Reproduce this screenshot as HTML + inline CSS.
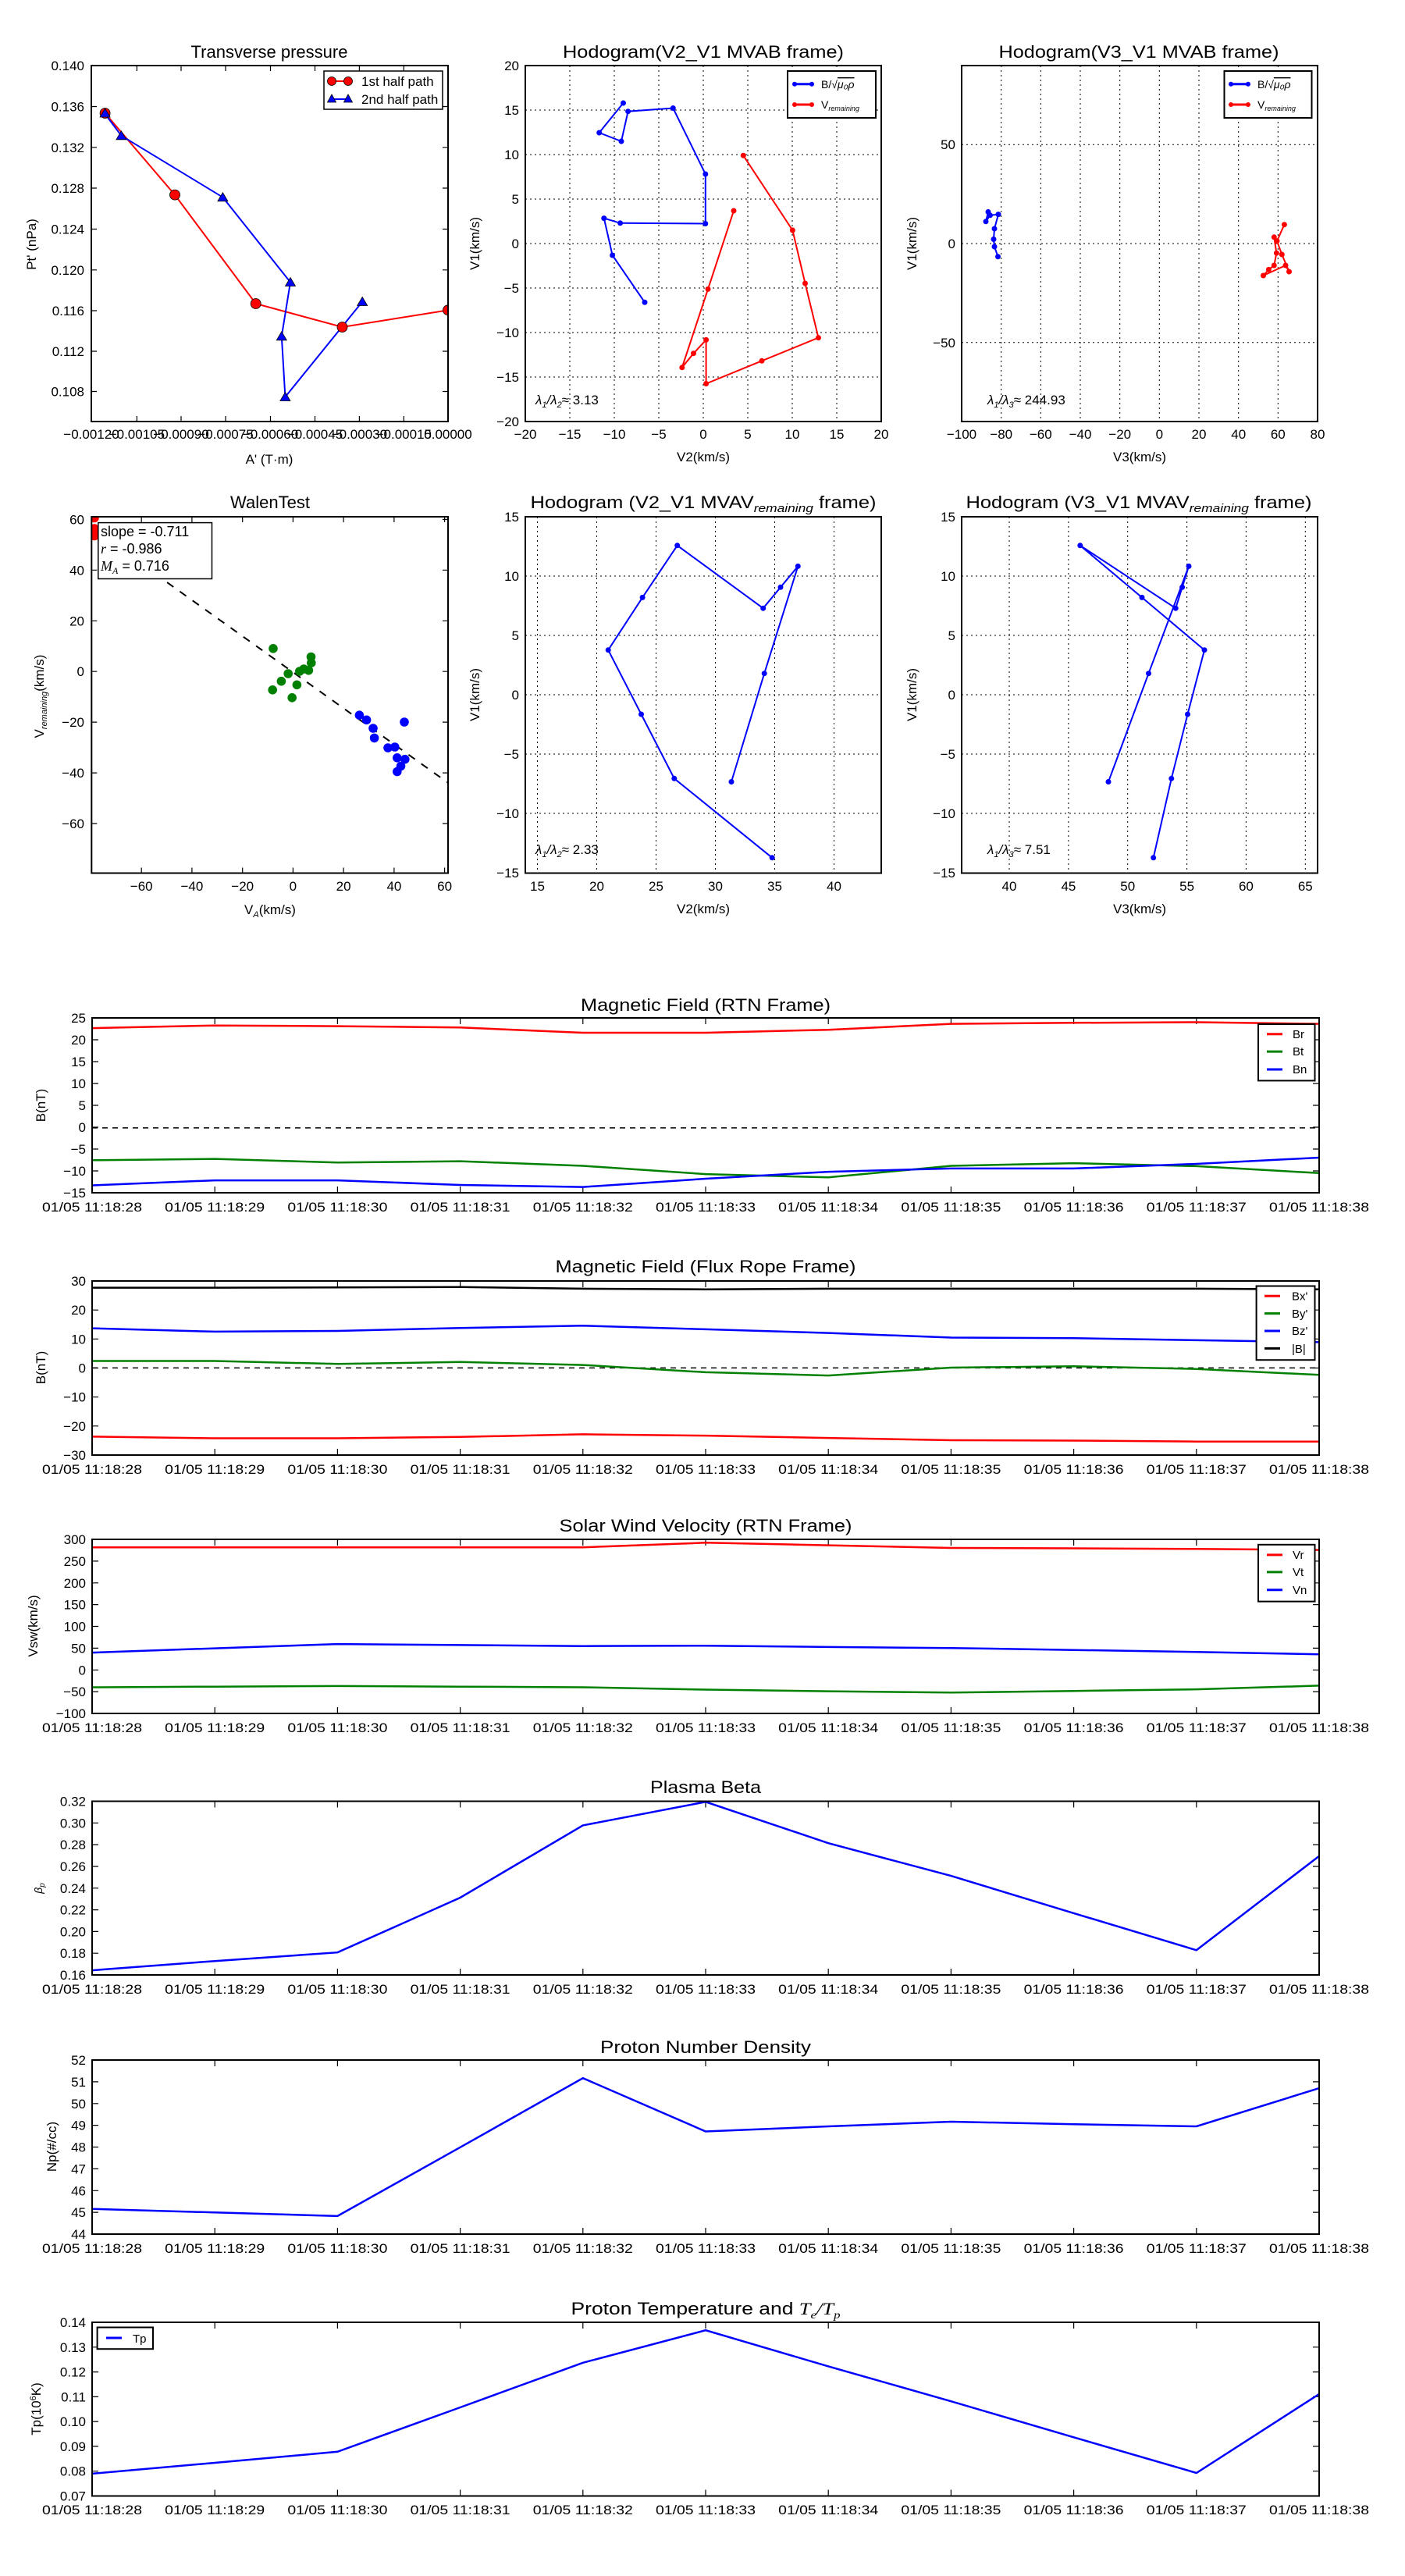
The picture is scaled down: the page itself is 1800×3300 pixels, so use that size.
<!DOCTYPE html>
<html><head><meta charset="utf-8"><style>
html,body{margin:0;padding:0;background:#fff}
svg{display:block}
text{font-family:"Liberation Sans",sans-serif;fill:#000}
.t{font-size:17px}
.n{font-size:17px}
.ti{font-size:22px}
.lb{font-size:17px}
.ax{fill:none;stroke:#000;stroke-width:2}
.tk{fill:none;stroke:#000;stroke-width:1.2}
.gr{fill:none;stroke:#000;stroke-width:1;stroke-dasharray:2,4}
</style></head><body>
<svg width="1800" height="3300" viewBox="0 0 1800 3300" xmlns="http://www.w3.org/2000/svg">
<rect width="1800" height="3300" fill="#fff"/>

<!-- ===== Panel 1: Transverse pressure ===== -->
<text class="ti" x="345" y="74" text-anchor="middle">Transverse pressure</text>
<path class="tk" d="M175.4,540v-7M232,540v-7M289,540v-7M346.5,540v-7M403.5,540v-7M460.4,540v-7M517.3,540v-7M175.4,84v7M232,84v7M289,84v7M346.5,84v7M403.5,84v7M460.4,84v7M517.3,84v7
M117,136.5h7M117,188.8h7M117,241h7M117,293.5h7M117,345.8h7M117,398h7M117,450h7M117,501.5h7M574,136.5h-7M574,188.8h-7M574,241h-7M574,293.5h-7M574,345.8h-7M574,398h-7M574,450h-7M574,501.5h-7"/>
<g class="t" text-anchor="end">
<text x="108" y="90">0.140</text><text x="108" y="142.5">0.136</text><text x="108" y="194.8">0.132</text><text x="108" y="247">0.128</text><text x="108" y="299.5">0.124</text><text x="108" y="351.8">0.120</text><text x="108" y="404">0.116</text><text x="108" y="456">0.112</text><text x="108" y="507.5">0.108</text>
</g>
<g class="t" text-anchor="middle">
<text x="117" y="562">−0.00120</text><text x="175.4" y="562">−0.00105</text><text x="232" y="562">−0.00090</text><text x="289" y="562">−0.00075</text><text x="346.5" y="562">−0.00060</text><text x="403.5" y="562">−0.00045</text><text x="460.4" y="562">−0.00030</text><text x="517.3" y="562">−0.00015</text><text x="574" y="562">0.00000</text>
</g>
<text class="lb" x="345" y="594" text-anchor="middle">A' (T·m)</text>
<text class="lb" transform="translate(46,313) rotate(-90)" text-anchor="middle">Pt' (nPa)</text>
<defs><clipPath id="c1"><rect x="117" y="84" width="457" height="456"/></clipPath></defs>
<g clip-path="url(#c1)">
<polyline fill="none" stroke="#f00" stroke-width="2" points="134.6,145 224,249.6 327.7,389 438.5,419 574,397.3"/>
<polyline fill="none" stroke="#00f" stroke-width="2" points="134.6,146 155.4,173.8 285.4,252.7 372,361.5 360.8,430.8 365.4,508.5 464.2,386.5"/>
<g fill="#f00" stroke="#000" stroke-width="0.8"><circle cx="134.6" cy="145" r="6.5"/><circle cx="224" cy="249.6" r="6.5"/><circle cx="327.7" cy="389" r="6.5"/><circle cx="438.5" cy="419" r="6.5"/><circle cx="574" cy="397.3" r="6.5"/></g>
<g fill="#00f" stroke="#000" stroke-width="0.8">
<path d="M134.6,139l6.5,11h-13z"/><path d="M155.4,167.8l6.5,11h-13z"/><path d="M285.4,246.7l6.5,11h-13z"/><path d="M372,355.5l6.5,11h-13z"/><path d="M360.8,424.8l6.5,11h-13z"/><path d="M365.4,502.5l6.5,11h-13z"/><path d="M464.2,380.5l6.5,11h-13z"/></g>
</g>
<rect class="ax" x="117" y="84" width="457" height="456"/>
<rect x="415" y="91" width="152" height="49" fill="#fff" stroke="#000" stroke-width="1.5"/>
<line x1="425" y1="104" x2="446" y2="104" stroke="#f00" stroke-width="2"/>
<circle cx="425" cy="104" r="5.5" fill="#f00" stroke="#000" stroke-width="0.8"/><circle cx="446" cy="104" r="5.5" fill="#f00" stroke="#000" stroke-width="0.8"/>
<text class="n" x="463" y="110">1st half path</text>
<line x1="425" y1="127" x2="446" y2="127" stroke="#00f" stroke-width="2"/>
<path d="M425,121l5.5,10h-11zM446,121l5.5,10h-11z" fill="#00f" stroke="#000" stroke-width="0.8"/>
<text class="n" x="463" y="133">2nd half path</text>

<!-- ===== Panel 2: Hodogram V2_V1 MVAB ===== -->
<text class="ti" x="901" y="74" text-anchor="middle" textLength="360" lengthAdjust="spacingAndGlyphs">Hodogram(V2_V1 MVAB frame)</text>
<path class="gr" d="M730,84V540M787,84V540M844,84V540M901,84V540M958,84V540M1015,84V540M1072,84V540M673,141H1129M673,198H1129M673,255H1129M673,312H1129M673,369H1129M673,426H1129M673,483H1129"/>
<g class="t" text-anchor="end">
<text x="665" y="90">20</text><text x="665" y="147">15</text><text x="665" y="204">10</text><text x="665" y="261">5</text><text x="665" y="318">0</text><text x="665" y="375">−5</text><text x="665" y="432">−10</text><text x="665" y="489">−15</text><text x="665" y="546">−20</text></g>
<g class="t" text-anchor="middle">
<text x="673" y="562">−20</text><text x="730" y="562">−15</text><text x="787" y="562">−10</text><text x="844" y="562">−5</text><text x="901" y="562">0</text><text x="958" y="562">5</text><text x="1015" y="562">10</text><text x="1072" y="562">15</text><text x="1129" y="562">20</text></g>
<text class="lb" x="901" y="591" text-anchor="middle">V2(km/s)</text>
<text class="lb" transform="translate(614,312) rotate(-90)" text-anchor="middle">V1(km/s)</text>
<polyline fill="none" stroke="#00f" stroke-width="2" points="798.5,132 767.7,170 796,181 804.6,142.7 862.3,138.5 903.8,223 903.8,286.5 794.6,285.8 773.8,279.6 784.6,327 826,387.3"/>
<g fill="#00f"><circle cx="798.5" cy="132" r="3.5"/><circle cx="767.7" cy="170" r="3.5"/><circle cx="796" cy="181" r="3.5"/><circle cx="804.6" cy="142.7" r="3.5"/><circle cx="862.3" cy="138.5" r="3.5"/><circle cx="903.8" cy="223" r="3.5"/><circle cx="903.8" cy="286.5" r="3.5"/><circle cx="794.6" cy="285.8" r="3.5"/><circle cx="773.8" cy="279.6" r="3.5"/><circle cx="784.6" cy="327" r="3.5"/><circle cx="826" cy="387.3" r="3.5"/></g>
<polyline fill="none" stroke="#f00" stroke-width="2" points="952.3,199.2 1015.4,295 1031.5,363 1048.5,432.7 976,462.3 904.6,491.5 904.6,435.4 888.5,452.7 873.8,470.8 907,370.4 940,270"/>
<g fill="#f00"><circle cx="952.3" cy="199.2" r="3.5"/><circle cx="1015.4" cy="295" r="3.5"/><circle cx="1031.5" cy="363" r="3.5"/><circle cx="1048.5" cy="432.7" r="3.5"/><circle cx="976" cy="462.3" r="3.5"/><circle cx="904.6" cy="491.5" r="3.5"/><circle cx="904.6" cy="435.4" r="3.5"/><circle cx="888.5" cy="452.7" r="3.5"/><circle cx="873.8" cy="470.8" r="3.5"/><circle cx="907" cy="370.4" r="3.5"/><circle cx="940" cy="270" r="3.5"/></g>
<text x="686" y="518" font-size="17" font-style="italic">λ<tspan font-size="11" dy="4">1</tspan><tspan dy="-4">/λ</tspan><tspan font-size="11" dy="4">2</tspan><tspan dy="-4" font-style="normal">≈ 3.13</tspan></text>
<rect class="ax" x="673" y="84" width="456" height="456"/>
<rect x="1009" y="91" width="113" height="60" fill="#fff" stroke="#000" stroke-width="2"/>
<line x1="1016" y1="107.7" x2="1042" y2="107.7" stroke="#00f" stroke-width="3"/><circle cx="1018" cy="107.7" r="3" fill="#00f"/><circle cx="1040" cy="107.7" r="3" fill="#00f"/>
<text x="1052" y="113" font-size="14">B/√<tspan font-style="italic" text-decoration="overline">μ₀ρ</tspan></text>
<line x1="1016" y1="134" x2="1042" y2="134" stroke="#f00" stroke-width="3"/><circle cx="1018" cy="134" r="3" fill="#f00"/><circle cx="1040" cy="134" r="3" fill="#f00"/>
<text x="1052" y="139" font-size="14">V<tspan font-size="9" font-style="italic" dy="3">remaining</tspan></text>

<!-- ===== Panel 3: Hodogram V3_V1 MVAB ===== -->
<text class="ti" x="1459" y="74" text-anchor="middle" textLength="359" lengthAdjust="spacingAndGlyphs">Hodogram(V3_V1 MVAB frame)</text>
<path class="gr" d="M1282.7,84V540M1333.3,84V540M1384,84V540M1434.7,84V540M1485.3,84V540M1536,84V540M1586.7,84V540M1637.3,84V540M1232,185.3H1688M1232,312H1688M1232,438.7H1688"/>
<g class="t" text-anchor="end"><text x="1224" y="191">50</text><text x="1224" y="318">0</text><text x="1224" y="445">−50</text></g>
<g class="t" text-anchor="middle">
<text x="1232" y="562">−100</text><text x="1282.7" y="562">−80</text><text x="1333.3" y="562">−60</text><text x="1384" y="562">−40</text><text x="1434.7" y="562">−20</text><text x="1485.3" y="562">0</text><text x="1536" y="562">20</text><text x="1586.7" y="562">40</text><text x="1637.3" y="562">60</text><text x="1688" y="562">80</text></g>
<text class="lb" x="1460" y="591" text-anchor="middle">V3(km/s)</text>
<text class="lb" transform="translate(1174,312) rotate(-90)" text-anchor="middle">V1(km/s)</text>
<polyline fill="none" stroke="#00f" stroke-width="2" points="1266,271.5 1263,283.8 1268.5,275.8 1279,274.6 1274,293 1273,306.5 1274,316 1278.5,328.8"/>
<g fill="#00f"><circle cx="1266" cy="271.5" r="3.5"/><circle cx="1263" cy="283.8" r="3.5"/><circle cx="1268.5" cy="275.8" r="3.5"/><circle cx="1279" cy="274.6" r="3.5"/><circle cx="1274" cy="293" r="3.5"/><circle cx="1273" cy="306.5" r="3.5"/><circle cx="1274" cy="316" r="3.5"/><circle cx="1278.5" cy="328.8" r="3.5"/></g>
<polyline fill="none" stroke="#f00" stroke-width="2" points="1645.4,287.7 1636,308.8 1632.3,303.8 1635.4,324.2 1632.3,340 1625.4,345.4 1618.5,353 1647,340 1651.5,348 1642.3,326 1636,308.8"/>
<g fill="#f00"><circle cx="1645.4" cy="287.7" r="3.5"/><circle cx="1632.3" cy="303.8" r="3.5"/><circle cx="1636" cy="308.8" r="3.5"/><circle cx="1635.4" cy="324.2" r="3.5"/><circle cx="1642.3" cy="326" r="3.5"/><circle cx="1632.3" cy="340" r="3.5"/><circle cx="1647" cy="340" r="3.5"/><circle cx="1651.5" cy="348" r="3.5"/><circle cx="1625.4" cy="345.4" r="3.5"/><circle cx="1618.5" cy="353" r="3.5"/></g>
<text x="1265" y="518" font-size="17" font-style="italic">λ<tspan font-size="11" dy="4">1</tspan><tspan dy="-4">/λ</tspan><tspan font-size="11" dy="4">3</tspan><tspan dy="-4" font-style="normal">≈ 244.93</tspan></text>
<rect class="ax" x="1232" y="84" width="456" height="456"/>
<rect x="1568.5" y="91" width="112" height="60" fill="#fff" stroke="#000" stroke-width="2"/>
<line x1="1575" y1="107.7" x2="1601" y2="107.7" stroke="#00f" stroke-width="3"/><circle cx="1577" cy="107.7" r="3" fill="#00f"/><circle cx="1599" cy="107.7" r="3" fill="#00f"/>
<text x="1611" y="113" font-size="14">B/√<tspan font-style="italic" text-decoration="overline">μ₀ρ</tspan></text>
<line x1="1575" y1="134" x2="1601" y2="134" stroke="#f00" stroke-width="3"/><circle cx="1577" cy="134" r="3" fill="#f00"/><circle cx="1599" cy="134" r="3" fill="#f00"/>
<text x="1611" y="139" font-size="14">V<tspan font-size="9" font-style="italic" dy="3">remaining</tspan></text>

<!-- ===== Panel 4: WalenTest ===== -->
<text class="ti" x="346" y="651" text-anchor="middle">WalenTest</text>
<path class="tk" d="M181.2,1118.5v-7M245.9,1118.5v-7M310.7,1118.5v-7M375.4,1118.5v-7M440.1,1118.5v-7M504.9,1118.5v-7M569.6,1118.5v-7M181.2,662v7M245.9,662v7M310.7,662v7M375.4,662v7M440.1,662v7M504.9,662v7M569.6,662v7
M117.3,665.4h7M117.3,730.3h7M117.3,795.3h7M117.3,860.2h7M117.3,925.1h7M117.3,990.1h7M117.3,1055h7M574,665.4h-7M574,730.3h-7M574,795.3h-7M574,860.2h-7M574,925.1h-7M574,990.1h-7M574,1055h-7"/>
<g class="t" text-anchor="end">
<text x="108" y="671.4">60</text><text x="108" y="736.3">40</text><text x="108" y="801.3">20</text><text x="108" y="866.2">0</text><text x="108" y="931.1">−20</text><text x="108" y="996.1">−40</text><text x="108" y="1061">−60</text></g>
<g class="t" text-anchor="middle">
<text x="181.2" y="1141">−60</text><text x="245.9" y="1141">−40</text><text x="310.7" y="1141">−20</text><text x="375.4" y="1141">0</text><text x="440.1" y="1141">20</text><text x="504.9" y="1141">40</text><text x="569.6" y="1141">60</text></g>
<text class="lb" x="346" y="1171" text-anchor="middle">V<tspan font-size="11" font-style="italic" dy="4">A</tspan><tspan dy="-4">(km/s)</tspan></text>
<text class="lb" transform="translate(56,892) rotate(-90)" text-anchor="middle">V<tspan font-size="11" font-style="italic" dy="4">remaining</tspan><tspan dy="-4">(km/s)</tspan></text>
<defs><clipPath id="c4"><rect x="117.3" y="662" width="456.7" height="456.5"/></clipPath></defs>
<g clip-path="url(#c4)">
<line x1="116.4" y1="676.4" x2="573.8" y2="1002.7" stroke="#000" stroke-width="2" stroke-dasharray="10,10"/>
<g fill="#f00"><circle cx="121" cy="663.5" r="5.8"/><circle cx="121" cy="677" r="5.8"/><circle cx="121" cy="686.5" r="5.8"/></g>
<g fill="#008000"><circle cx="350" cy="830.8" r="5.8"/><circle cx="349.2" cy="883.8" r="5.8"/><circle cx="360.4" cy="872.7" r="5.8"/><circle cx="369.2" cy="863" r="5.8"/><circle cx="374.2" cy="893.8" r="5.8"/><circle cx="380.4" cy="877.3" r="5.8"/><circle cx="383.8" cy="860" r="5.8"/><circle cx="389.2" cy="857" r="5.8"/><circle cx="395.4" cy="858.8" r="5.8"/><circle cx="398.5" cy="841.5" r="5.8"/><circle cx="398.8" cy="849.2" r="5.8"/></g>
<g fill="#00f"><circle cx="460.4" cy="916.2" r="5.8"/><circle cx="469.6" cy="922.3" r="5.8"/><circle cx="478" cy="933" r="5.8"/><circle cx="479.6" cy="945.4" r="5.8"/><circle cx="497" cy="958" r="5.8"/><circle cx="505.8" cy="957" r="5.8"/><circle cx="508.8" cy="970.8" r="5.8"/><circle cx="508.8" cy="988.5" r="5.8"/><circle cx="513.5" cy="981.5" r="5.8"/><circle cx="518.8" cy="972.7" r="5.8"/><circle cx="518" cy="925" r="5.8"/></g>
</g>
<rect class="ax" x="117.3" y="662" width="456.7" height="456.5"/>
<rect x="125.8" y="669.6" width="145.7" height="71.9" fill="#fff" stroke="#000" stroke-width="1.5"/>
<text x="129" y="687" font-size="18">slope = -0.711</text>
<text x="129" y="709" font-size="18"><tspan font-style="italic" font-family="Liberation Serif">r</tspan> = -0.986</text>
<text x="129" y="731" font-size="18"><tspan font-style="italic" font-family="Liberation Serif">M<tspan font-size="12" dy="4">A</tspan></tspan><tspan dy="-4"> = 0.716</tspan></text>

<!-- ===== Panel 5: Hodogram V2_V1 MVAV ===== -->
<text class="ti" x="901" y="651" text-anchor="middle" textLength="443" lengthAdjust="spacingAndGlyphs">Hodogram (V2_V1 MVAV<tspan font-size="15" font-style="italic" dy="5">remaining</tspan><tspan dy="-5"> frame)</tspan></text>
<path class="gr" d="M688.5,662V1118.5M764.5,662V1118.5M840.5,662V1118.5M916.5,662V1118.5M992.5,662V1118.5M1068.5,662V1118.5M673,738H1129M673,814H1129M673,890H1129M673,966H1129M673,1042H1129"/>
<g class="t" text-anchor="end">
<text x="665" y="668">15</text><text x="665" y="744">10</text><text x="665" y="820">5</text><text x="665" y="896">0</text><text x="665" y="972">−5</text><text x="665" y="1048">−10</text><text x="665" y="1124">−15</text></g>
<g class="t" text-anchor="middle">
<text x="688.5" y="1141">15</text><text x="764.5" y="1141">20</text><text x="840.5" y="1141">25</text><text x="916.5" y="1141">30</text><text x="992.5" y="1141">35</text><text x="1068.5" y="1141">40</text></g>
<text class="lb" x="901" y="1170" text-anchor="middle">V2(km/s)</text>
<text class="lb" transform="translate(614,890) rotate(-90)" text-anchor="middle">V1(km/s)</text>
<polyline fill="none" stroke="#00f" stroke-width="2" points="989.2,1098.8 863.8,997.3 821.5,915 779.2,832.7 823.1,765.4 867.7,698.8 977.7,779.2 1000,752.3 1022.3,725.4 979.2,862.7 937,1001.5"/>
<g fill="#00f"><circle cx="989.2" cy="1098.8" r="3.5"/><circle cx="863.8" cy="997.3" r="3.5"/><circle cx="821.5" cy="915" r="3.5"/><circle cx="779.2" cy="832.7" r="3.5"/><circle cx="823.1" cy="765.4" r="3.5"/><circle cx="867.7" cy="698.8" r="3.5"/><circle cx="977.7" cy="779.2" r="3.5"/><circle cx="1000" cy="752.3" r="3.5"/><circle cx="1022.3" cy="725.4" r="3.5"/><circle cx="979.2" cy="862.7" r="3.5"/><circle cx="937" cy="1001.5" r="3.5"/></g>
<text x="686" y="1094" font-size="17" font-style="italic">λ<tspan font-size="11" dy="4">1</tspan><tspan dy="-4">/λ</tspan><tspan font-size="11" dy="4">2</tspan><tspan dy="-4" font-style="normal">≈ 2.33</tspan></text>
<rect class="ax" x="673" y="662" width="456" height="456.5"/>

<!-- ===== Panel 6: Hodogram V3_V1 MVAV ===== -->
<text class="ti" x="1459" y="651" text-anchor="middle" textLength="443" lengthAdjust="spacingAndGlyphs">Hodogram (V3_V1 MVAV<tspan font-size="15" font-style="italic" dy="5">remaining</tspan><tspan dy="-5"> frame)</tspan></text>
<path class="gr" d="M1293,662V1118.5M1368.9,662V1118.5M1444.7,662V1118.5M1520.6,662V1118.5M1596.4,662V1118.5M1672.3,662V1118.5M1232,738H1688M1232,814H1688M1232,890H1688M1232,966H1688M1232,1042H1688"/>
<g class="t" text-anchor="end">
<text x="1224" y="668">15</text><text x="1224" y="744">10</text><text x="1224" y="820">5</text><text x="1224" y="896">0</text><text x="1224" y="972">−5</text><text x="1224" y="1048">−10</text><text x="1224" y="1124">−15</text></g>
<g class="t" text-anchor="middle">
<text x="1293" y="1141">40</text><text x="1368.9" y="1141">45</text><text x="1444.7" y="1141">50</text><text x="1520.6" y="1141">55</text><text x="1596.4" y="1141">60</text><text x="1672.3" y="1141">65</text></g>
<text class="lb" x="1460" y="1170" text-anchor="middle">V3(km/s)</text>
<text class="lb" transform="translate(1174,890) rotate(-90)" text-anchor="middle">V1(km/s)</text>
<polyline fill="none" stroke="#00f" stroke-width="2" points="1477.7,1098.8 1500.8,997.3 1521.5,915 1543,832.7 1463,765.4 1383.8,698.8 1506.2,779.2 1514.6,752.3 1523,725.4 1471.5,862.7 1420,1001.5"/>
<g fill="#00f"><circle cx="1477.7" cy="1098.8" r="3.5"/><circle cx="1500.8" cy="997.3" r="3.5"/><circle cx="1521.5" cy="915" r="3.5"/><circle cx="1543" cy="832.7" r="3.5"/><circle cx="1463" cy="765.4" r="3.5"/><circle cx="1383.8" cy="698.8" r="3.5"/><circle cx="1506.2" cy="779.2" r="3.5"/><circle cx="1514.6" cy="752.3" r="3.5"/><circle cx="1523" cy="725.4" r="3.5"/><circle cx="1471.5" cy="862.7" r="3.5"/><circle cx="1420" cy="1001.5" r="3.5"/></g>
<text x="1265" y="1094" font-size="17" font-style="italic">λ<tspan font-size="11" dy="4">1</tspan><tspan dy="-4">/λ</tspan><tspan font-size="11" dy="4">3</tspan><tspan dy="-4" font-style="normal">≈ 7.51</tspan></text>
<rect class="ax" x="1232" y="662" width="456" height="456.5"/>

<!-- ===== Time series shared tick-label template (repeated) ===== -->
<!-- Mag RTN: top 1304 bottom 1528 -->
<text class="ti" x="904" y="1295" text-anchor="middle" textLength="320" lengthAdjust="spacingAndGlyphs">Magnetic Field (RTN Frame)</text>
<path class="tk" d="M275.2,1528v-8M432.4,1528v-8M589.6,1528v-8M746.8,1528v-8M904,1528v-8M1061.2,1528v-8M1218.4,1528v-8M1375.6,1528v-8M1532.8,1528v-8M275.2,1304v8M432.4,1304v8M589.6,1304v8M746.8,1304v8M904,1304v8M1061.2,1304v8M1218.4,1304v8M1375.6,1304v8M1532.8,1304v8
M118,1332h8M118,1360h8M118,1388h8M118,1416h8M118,1444h8M118,1472h8M118,1500h8M1690,1332h-8M1690,1360h-8M1690,1388h-8M1690,1416h-8M1690,1444h-8M1690,1472h-8M1690,1500h-8"/>
<g class="t" text-anchor="end">
<text x="110" y="1310">25</text><text x="110" y="1338">20</text><text x="110" y="1366">15</text><text x="110" y="1394">10</text><text x="110" y="1422">5</text><text x="110" y="1450">0</text><text x="110" y="1478">−5</text><text x="110" y="1506">−10</text><text x="110" y="1534">−15</text></g>
<g class="t" text-anchor="middle">
<text x="118" y="1552" textLength="128" lengthAdjust="spacingAndGlyphs">01/05 11:18:28</text><text x="275.2" y="1552" textLength="128" lengthAdjust="spacingAndGlyphs">01/05 11:18:29</text><text x="432.4" y="1552" textLength="128" lengthAdjust="spacingAndGlyphs">01/05 11:18:30</text><text x="589.6" y="1552" textLength="128" lengthAdjust="spacingAndGlyphs">01/05 11:18:31</text><text x="746.8" y="1552" textLength="128" lengthAdjust="spacingAndGlyphs">01/05 11:18:32</text><text x="904" y="1552" textLength="128" lengthAdjust="spacingAndGlyphs">01/05 11:18:33</text><text x="1061.2" y="1552" textLength="128" lengthAdjust="spacingAndGlyphs">01/05 11:18:34</text><text x="1218.4" y="1552" textLength="128" lengthAdjust="spacingAndGlyphs">01/05 11:18:35</text><text x="1375.6" y="1552" textLength="128" lengthAdjust="spacingAndGlyphs">01/05 11:18:36</text><text x="1532.8" y="1552" textLength="128" lengthAdjust="spacingAndGlyphs">01/05 11:18:37</text><text x="1690" y="1552" textLength="128" lengthAdjust="spacingAndGlyphs">01/05 11:18:38</text></g>
<text class="lb" transform="translate(58,1416) rotate(-90)" text-anchor="middle">B(nT)</text>
<line x1="118" y1="1444.9" x2="1690" y2="1444.9" stroke="#000" stroke-width="1.5" stroke-dasharray="7,6"/>
<polyline fill="none" stroke="#f00" stroke-width="2.5" points="118,1317.1 275.2,1313.7 432.4,1314.6 589.6,1316.3 746.8,1323 904,1323 1061.2,1319.2 1218.4,1311.6 1375.6,1310.3 1532.8,1309.5 1690,1311.6"/>
<polyline fill="none" stroke="#008000" stroke-width="2.5" points="118,1486.3 275.2,1484.6 432.4,1489.3 589.6,1487.6 746.8,1493.5 904,1504.1 1061.2,1508.3 1218.4,1493.5 1375.6,1490.1 1532.8,1493.9 1690,1502.8"/>
<polyline fill="none" stroke="#00f" stroke-width="2.5" points="118,1518.5 275.2,1512.1 432.4,1512.1 589.6,1518 746.8,1520.6 904,1510 1061.2,1501.1 1218.4,1496.9 1375.6,1496.9 1532.8,1491 1690,1483"/>
<rect class="ax" x="118" y="1304" width="1572" height="224"/>
<rect x="1612" y="1312" width="72.5" height="72.4" fill="#fff" stroke="#000" stroke-width="2"/>
<line x1="1623" y1="1324.7" x2="1643" y2="1324.7" stroke="#f00" stroke-width="3"/><text x="1656" y="1330" font-size="15">Br</text>
<line x1="1623" y1="1347.1" x2="1643" y2="1347.1" stroke="#008000" stroke-width="3"/><text x="1656" y="1352" font-size="15">Bt</text>
<line x1="1623" y1="1370" x2="1643" y2="1370" stroke="#00f" stroke-width="3"/><text x="1656" y="1375" font-size="15">Bn</text>

<!-- Flux rope: top 1641 bottom 1864 -->
<text class="ti" x="904" y="1630" text-anchor="middle" textLength="385" lengthAdjust="spacingAndGlyphs">Magnetic Field (Flux Rope Frame)</text>
<path class="tk" d="M275.2,1864v-8M432.4,1864v-8M589.6,1864v-8M746.8,1864v-8M904,1864v-8M1061.2,1864v-8M1218.4,1864v-8M1375.6,1864v-8M1532.8,1864v-8M275.2,1641v8M432.4,1641v8M589.6,1641v8M746.8,1641v8M904,1641v8M1061.2,1641v8M1218.4,1641v8M1375.6,1641v8M1532.8,1641v8
M118,1678.2h8M118,1715.3h8M118,1752.5h8M118,1789.7h8M118,1826.8h8M1690,1678.2h-8M1690,1715.3h-8M1690,1752.5h-8M1690,1789.7h-8M1690,1826.8h-8"/>
<g class="t" text-anchor="end">
<text x="110" y="1647">30</text><text x="110" y="1684.2">20</text><text x="110" y="1721.3">10</text><text x="110" y="1758.5">0</text><text x="110" y="1795.7">−10</text><text x="110" y="1832.8">−20</text><text x="110" y="1870">−30</text></g>
<g class="t" text-anchor="middle">
<text x="118" y="1888" textLength="128" lengthAdjust="spacingAndGlyphs">01/05 11:18:28</text><text x="275.2" y="1888" textLength="128" lengthAdjust="spacingAndGlyphs">01/05 11:18:29</text><text x="432.4" y="1888" textLength="128" lengthAdjust="spacingAndGlyphs">01/05 11:18:30</text><text x="589.6" y="1888" textLength="128" lengthAdjust="spacingAndGlyphs">01/05 11:18:31</text><text x="746.8" y="1888" textLength="128" lengthAdjust="spacingAndGlyphs">01/05 11:18:32</text><text x="904" y="1888" textLength="128" lengthAdjust="spacingAndGlyphs">01/05 11:18:33</text><text x="1061.2" y="1888" textLength="128" lengthAdjust="spacingAndGlyphs">01/05 11:18:34</text><text x="1218.4" y="1888" textLength="128" lengthAdjust="spacingAndGlyphs">01/05 11:18:35</text><text x="1375.6" y="1888" textLength="128" lengthAdjust="spacingAndGlyphs">01/05 11:18:36</text><text x="1532.8" y="1888" textLength="128" lengthAdjust="spacingAndGlyphs">01/05 11:18:37</text><text x="1690" y="1888" textLength="128" lengthAdjust="spacingAndGlyphs">01/05 11:18:38</text></g>
<text class="lb" transform="translate(58,1752) rotate(-90)" text-anchor="middle">B(nT)</text>
<line x1="118" y1="1752.4" x2="1690" y2="1752.4" stroke="#000" stroke-width="1.5" stroke-dasharray="7,6"/>
<polyline fill="none" stroke="#000" stroke-width="2.5" points="118,1649.6 275.2,1649.6 432.4,1649.2 589.6,1648.8 746.8,1650.9 904,1651.7 1061.2,1650.9 1218.4,1650.9 1375.6,1650.9 1532.8,1650.9 1690,1651.7"/>
<polyline fill="none" stroke="#00f" stroke-width="2.5" points="118,1701.6 275.2,1705.9 432.4,1705 589.6,1701.2 746.8,1698.3 904,1702.9 1061.2,1707.6 1218.4,1713.5 1375.6,1714.3 1532.8,1716.9 1690,1719.4"/>
<polyline fill="none" stroke="#008000" stroke-width="2.5" points="118,1743.5 275.2,1743.5 432.4,1747.3 589.6,1744.8 746.8,1748.6 904,1757.9 1061.2,1762.1 1218.4,1752 1375.6,1750.3 1532.8,1753.7 1690,1761.3"/>
<polyline fill="none" stroke="#f00" stroke-width="2.5" points="118,1840.4 275.2,1842.5 432.4,1842.5 589.6,1840.8 746.8,1837.4 904,1839.1 1061.2,1842.1 1218.4,1845 1375.6,1845.5 1532.8,1846.7 1690,1846.7"/>
<rect class="ax" x="118" y="1641" width="1572" height="223"/>
<rect x="1609.6" y="1647.5" width="74.9" height="94.7" fill="#fff" stroke="#000" stroke-width="2"/>
<line x1="1620" y1="1660.2" x2="1640" y2="1660.2" stroke="#f00" stroke-width="3"/><text x="1655" y="1665.5" font-size="15">Bx'</text>
<line x1="1620" y1="1682.6" x2="1640" y2="1682.6" stroke="#008000" stroke-width="3"/><text x="1655" y="1688" font-size="15">By'</text>
<line x1="1620" y1="1705" x2="1640" y2="1705" stroke="#00f" stroke-width="3"/><text x="1655" y="1710" font-size="15">Bz'</text>
<line x1="1620" y1="1727.4" x2="1640" y2="1727.4" stroke="#000" stroke-width="3"/><text x="1655" y="1733" font-size="15">|B|</text>

<!-- Velocity: top 1972 bottom 2195 -->
<text class="ti" x="904" y="1962" text-anchor="middle" textLength="375" lengthAdjust="spacingAndGlyphs">Solar Wind Velocity (RTN Frame)</text>
<path class="tk" d="M275.2,2195v-8M432.4,2195v-8M589.6,2195v-8M746.8,2195v-8M904,2195v-8M1061.2,2195v-8M1218.4,2195v-8M1375.6,2195v-8M1532.8,2195v-8M275.2,1972v8M432.4,1972v8M589.6,1972v8M746.8,1972v8M904,1972v8M1061.2,1972v8M1218.4,1972v8M1375.6,1972v8M1532.8,1972v8
M118,1999.9h8M118,2027.8h8M118,2055.6h8M118,2083.5h8M118,2111.4h8M118,2139.3h8M118,2167.1h8M1690,1999.9h-8M1690,2027.8h-8M1690,2055.6h-8M1690,2083.5h-8M1690,2111.4h-8M1690,2139.3h-8M1690,2167.1h-8"/>
<g class="t" text-anchor="end">
<text x="110" y="1978">300</text><text x="110" y="2005.9">250</text><text x="110" y="2033.8">200</text><text x="110" y="2061.6">150</text><text x="110" y="2089.5">100</text><text x="110" y="2117.4">50</text><text x="110" y="2145.3">0</text><text x="110" y="2173.1">−50</text><text x="110" y="2201">−100</text></g>
<g class="t" text-anchor="middle">
<text x="118" y="2219" textLength="128" lengthAdjust="spacingAndGlyphs">01/05 11:18:28</text><text x="275.2" y="2219" textLength="128" lengthAdjust="spacingAndGlyphs">01/05 11:18:29</text><text x="432.4" y="2219" textLength="128" lengthAdjust="spacingAndGlyphs">01/05 11:18:30</text><text x="589.6" y="2219" textLength="128" lengthAdjust="spacingAndGlyphs">01/05 11:18:31</text><text x="746.8" y="2219" textLength="128" lengthAdjust="spacingAndGlyphs">01/05 11:18:32</text><text x="904" y="2219" textLength="128" lengthAdjust="spacingAndGlyphs">01/05 11:18:33</text><text x="1061.2" y="2219" textLength="128" lengthAdjust="spacingAndGlyphs">01/05 11:18:34</text><text x="1218.4" y="2219" textLength="128" lengthAdjust="spacingAndGlyphs">01/05 11:18:35</text><text x="1375.6" y="2219" textLength="128" lengthAdjust="spacingAndGlyphs">01/05 11:18:36</text><text x="1532.8" y="2219" textLength="128" lengthAdjust="spacingAndGlyphs">01/05 11:18:37</text><text x="1690" y="2219" textLength="128" lengthAdjust="spacingAndGlyphs">01/05 11:18:38</text></g>
<text class="lb" transform="translate(48,2083) rotate(-90)" text-anchor="middle">Vsw(km/s)</text>
<polyline fill="none" stroke="#f00" stroke-width="2.5" points="118,1982.2 275.2,1982.2 432.4,1982.2 589.6,1982.2 746.8,1982.2 904,1976.3 1061.2,1979.6 1218.4,1983 1375.6,1983.5 1532.8,1984.3 1690,1985.6"/>
<polyline fill="none" stroke="#00f" stroke-width="2.5" points="118,2117.1 275.2,2111.6 432.4,2106.1 589.6,2107.4 746.8,2108.7 904,2108.2 1061.2,2109.9 1218.4,2111.2 1375.6,2113.7 1532.8,2116.3 1690,2119.2"/>
<polyline fill="none" stroke="#008000" stroke-width="2.5" points="118,2161.5 275.2,2160.7 432.4,2159.9 589.6,2160.7 746.8,2161.5 904,2164.5 1061.2,2166.6 1218.4,2168.3 1375.6,2166.2 1532.8,2164.1 1690,2159.4"/>
<rect class="ax" x="118" y="1972" width="1572" height="223"/>
<rect x="1612" y="1978.8" width="72.5" height="72.8" fill="#fff" stroke="#000" stroke-width="2"/>
<line x1="1623" y1="1991.9" x2="1643" y2="1991.9" stroke="#f00" stroke-width="3"/><text x="1656" y="1997" font-size="15">Vr</text>
<line x1="1623" y1="2013.9" x2="1643" y2="2013.9" stroke="#008000" stroke-width="3"/><text x="1656" y="2019" font-size="15">Vt</text>
<line x1="1623" y1="2036.8" x2="1643" y2="2036.8" stroke="#00f" stroke-width="3"/><text x="1656" y="2042" font-size="15">Vn</text>

<!-- Beta: top 2307.5 bottom 2530 -->
<text class="ti" x="904" y="2297" text-anchor="middle" textLength="142" lengthAdjust="spacingAndGlyphs">Plasma Beta</text>
<path class="tk" d="M275.2,2530v-8M432.4,2530v-8M589.6,2530v-8M746.8,2530v-8M904,2530v-8M1061.2,2530v-8M1218.4,2530v-8M1375.6,2530v-8M1532.8,2530v-8M275.2,2307.5v8M432.4,2307.5v8M589.6,2307.5v8M746.8,2307.5v8M904,2307.5v8M1061.2,2307.5v8M1218.4,2307.5v8M1375.6,2307.5v8M1532.8,2307.5v8
M118,2335.3h8M118,2363.1h8M118,2391h8M118,2418.8h8M118,2446.6h8M118,2474.4h8M118,2502.2h8M1690,2335.3h-8M1690,2363.1h-8M1690,2391h-8M1690,2418.8h-8M1690,2446.6h-8M1690,2474.4h-8M1690,2502.2h-8"/>
<g class="t" text-anchor="end">
<text x="110" y="2313.5">0.32</text><text x="110" y="2341.3">0.30</text><text x="110" y="2369.1">0.28</text><text x="110" y="2397">0.26</text><text x="110" y="2424.8">0.24</text><text x="110" y="2452.6">0.22</text><text x="110" y="2480.4">0.20</text><text x="110" y="2508.2">0.18</text><text x="110" y="2536">0.16</text></g>
<g class="t" text-anchor="middle">
<text x="118" y="2554" textLength="128" lengthAdjust="spacingAndGlyphs">01/05 11:18:28</text><text x="275.2" y="2554" textLength="128" lengthAdjust="spacingAndGlyphs">01/05 11:18:29</text><text x="432.4" y="2554" textLength="128" lengthAdjust="spacingAndGlyphs">01/05 11:18:30</text><text x="589.6" y="2554" textLength="128" lengthAdjust="spacingAndGlyphs">01/05 11:18:31</text><text x="746.8" y="2554" textLength="128" lengthAdjust="spacingAndGlyphs">01/05 11:18:32</text><text x="904" y="2554" textLength="128" lengthAdjust="spacingAndGlyphs">01/05 11:18:33</text><text x="1061.2" y="2554" textLength="128" lengthAdjust="spacingAndGlyphs">01/05 11:18:34</text><text x="1218.4" y="2554" textLength="128" lengthAdjust="spacingAndGlyphs">01/05 11:18:35</text><text x="1375.6" y="2554" textLength="128" lengthAdjust="spacingAndGlyphs">01/05 11:18:36</text><text x="1532.8" y="2554" textLength="128" lengthAdjust="spacingAndGlyphs">01/05 11:18:37</text><text x="1690" y="2554" textLength="128" lengthAdjust="spacingAndGlyphs">01/05 11:18:38</text></g>
<text transform="translate(54,2419) rotate(-90)" text-anchor="middle" font-size="14" font-style="italic" font-family="Liberation Serif">β<tspan font-size="10" dy="3">p</tspan></text>
<polyline fill="none" stroke="#00f" stroke-width="2.5" points="118,2524.1 275.2,2512.2 432.4,2501.2 589.6,2431 746.8,2338.4 904,2308.3 1061.2,2361.2 1218.4,2403.1 1375.6,2450.9 1532.8,2498.3 1690,2377.7"/>
<rect class="ax" x="118" y="2307.5" width="1572" height="222.5"/>

<!-- Density: top 2639 bottom 2862 -->
<text class="ti" x="904" y="2630" text-anchor="middle" textLength="270" lengthAdjust="spacingAndGlyphs">Proton Number Density</text>
<path class="tk" d="M275.2,2862v-8M432.4,2862v-8M589.6,2862v-8M746.8,2862v-8M904,2862v-8M1061.2,2862v-8M1218.4,2862v-8M1375.6,2862v-8M1532.8,2862v-8M275.2,2639v8M432.4,2639v8M589.6,2639v8M746.8,2639v8M904,2639v8M1061.2,2639v8M1218.4,2639v8M1375.6,2639v8M1532.8,2639v8
M118,2666.9h8M118,2694.8h8M118,2722.6h8M118,2750.5h8M118,2778.4h8M118,2806.3h8M118,2834.1h8M1690,2666.9h-8M1690,2694.8h-8M1690,2722.6h-8M1690,2750.5h-8M1690,2778.4h-8M1690,2806.3h-8M1690,2834.1h-8"/>
<g class="t" text-anchor="end">
<text x="110" y="2645">52</text><text x="110" y="2672.9">51</text><text x="110" y="2700.8">50</text><text x="110" y="2728.6">49</text><text x="110" y="2756.5">48</text><text x="110" y="2784.4">47</text><text x="110" y="2812.3">46</text><text x="110" y="2840.1">45</text><text x="110" y="2868">44</text></g>
<g class="t" text-anchor="middle">
<text x="118" y="2886" textLength="128" lengthAdjust="spacingAndGlyphs">01/05 11:18:28</text><text x="275.2" y="2886" textLength="128" lengthAdjust="spacingAndGlyphs">01/05 11:18:29</text><text x="432.4" y="2886" textLength="128" lengthAdjust="spacingAndGlyphs">01/05 11:18:30</text><text x="589.6" y="2886" textLength="128" lengthAdjust="spacingAndGlyphs">01/05 11:18:31</text><text x="746.8" y="2886" textLength="128" lengthAdjust="spacingAndGlyphs">01/05 11:18:32</text><text x="904" y="2886" textLength="128" lengthAdjust="spacingAndGlyphs">01/05 11:18:33</text><text x="1061.2" y="2886" textLength="128" lengthAdjust="spacingAndGlyphs">01/05 11:18:34</text><text x="1218.4" y="2886" textLength="128" lengthAdjust="spacingAndGlyphs">01/05 11:18:35</text><text x="1375.6" y="2886" textLength="128" lengthAdjust="spacingAndGlyphs">01/05 11:18:36</text><text x="1532.8" y="2886" textLength="128" lengthAdjust="spacingAndGlyphs">01/05 11:18:37</text><text x="1690" y="2886" textLength="128" lengthAdjust="spacingAndGlyphs">01/05 11:18:38</text></g>
<text class="lb" transform="translate(72,2750) rotate(-90)" text-anchor="middle">Np(#/cc)</text>
<polyline fill="none" stroke="#00f" stroke-width="2.5" points="118,2829.7 275.2,2834.3 432.4,2838.9 589.6,2750.8 746.8,2662.2 904,2730.5 1061.2,2724 1218.4,2718 1375.6,2721.2 1532.8,2724 1690,2675.1"/>
<rect class="ax" x="118" y="2639" width="1572" height="223"/>

<!-- Temperature: top 2975 bottom 3197.5 -->
<text class="ti" x="904" y="2965" text-anchor="middle" textLength="345" lengthAdjust="spacingAndGlyphs">Proton Temperature and <tspan font-style="italic" font-family="Liberation Serif">T<tspan font-size="14" dy="5">e</tspan><tspan dy="-5">/T</tspan><tspan font-size="14" dy="5">p</tspan></tspan></text>
<path class="tk" d="M275.2,3197.5v-8M432.4,3197.5v-8M589.6,3197.5v-8M746.8,3197.5v-8M904,3197.5v-8M1061.2,3197.5v-8M1218.4,3197.5v-8M1375.6,3197.5v-8M1532.8,3197.5v-8M275.2,2975v8M432.4,2975v8M589.6,2975v8M746.8,2975v8M904,2975v8M1061.2,2975v8M1218.4,2975v8M1375.6,2975v8M1532.8,2975v8
M118,3006.8h8M118,3038.6h8M118,3070.4h8M118,3102.1h8M118,3133.9h8M118,3165.7h8M1690,3006.8h-8M1690,3038.6h-8M1690,3070.4h-8M1690,3102.1h-8M1690,3133.9h-8M1690,3165.7h-8"/>
<g class="t" text-anchor="end">
<text x="110" y="2981">0.14</text><text x="110" y="3012.8">0.13</text><text x="110" y="3044.6">0.12</text><text x="110" y="3076.4">0.11</text><text x="110" y="3108.1">0.10</text><text x="110" y="3139.9">0.09</text><text x="110" y="3171.7">0.08</text><text x="110" y="3203.5">0.07</text></g>
<g class="t" text-anchor="middle">
<text x="118" y="3221" textLength="128" lengthAdjust="spacingAndGlyphs">01/05 11:18:28</text><text x="275.2" y="3221" textLength="128" lengthAdjust="spacingAndGlyphs">01/05 11:18:29</text><text x="432.4" y="3221" textLength="128" lengthAdjust="spacingAndGlyphs">01/05 11:18:30</text><text x="589.6" y="3221" textLength="128" lengthAdjust="spacingAndGlyphs">01/05 11:18:31</text><text x="746.8" y="3221" textLength="128" lengthAdjust="spacingAndGlyphs">01/05 11:18:32</text><text x="904" y="3221" textLength="128" lengthAdjust="spacingAndGlyphs">01/05 11:18:33</text><text x="1061.2" y="3221" textLength="128" lengthAdjust="spacingAndGlyphs">01/05 11:18:34</text><text x="1218.4" y="3221" textLength="128" lengthAdjust="spacingAndGlyphs">01/05 11:18:35</text><text x="1375.6" y="3221" textLength="128" lengthAdjust="spacingAndGlyphs">01/05 11:18:36</text><text x="1532.8" y="3221" textLength="128" lengthAdjust="spacingAndGlyphs">01/05 11:18:37</text><text x="1690" y="3221" textLength="128" lengthAdjust="spacingAndGlyphs">01/05 11:18:38</text></g>
<text class="lb" transform="translate(52,3086) rotate(-90)" text-anchor="middle">Tp(10<tspan font-size="11" dy="-6">6</tspan><tspan dy="6">K)</tspan></text>
<polyline fill="none" stroke="#00f" stroke-width="2.5" points="118,3168.9 275.2,3155 432.4,3140.8 589.6,3084 746.8,3026.8 904,2985.2 1061.2,3031.4 1218.4,3076.2 1375.6,3122.3 1532.8,3168 1690,3066.9"/>
<rect class="ax" x="118" y="2975" width="1572" height="222.5"/>
<rect x="124.6" y="2981.5" width="71.4" height="27.7" fill="#fff" stroke="#000" stroke-width="2"/>
<line x1="136" y1="2995" x2="156" y2="2995" stroke="#00f" stroke-width="3"/><text x="170" y="3001" font-size="15">Tp</text>
</svg>
</body></html>
